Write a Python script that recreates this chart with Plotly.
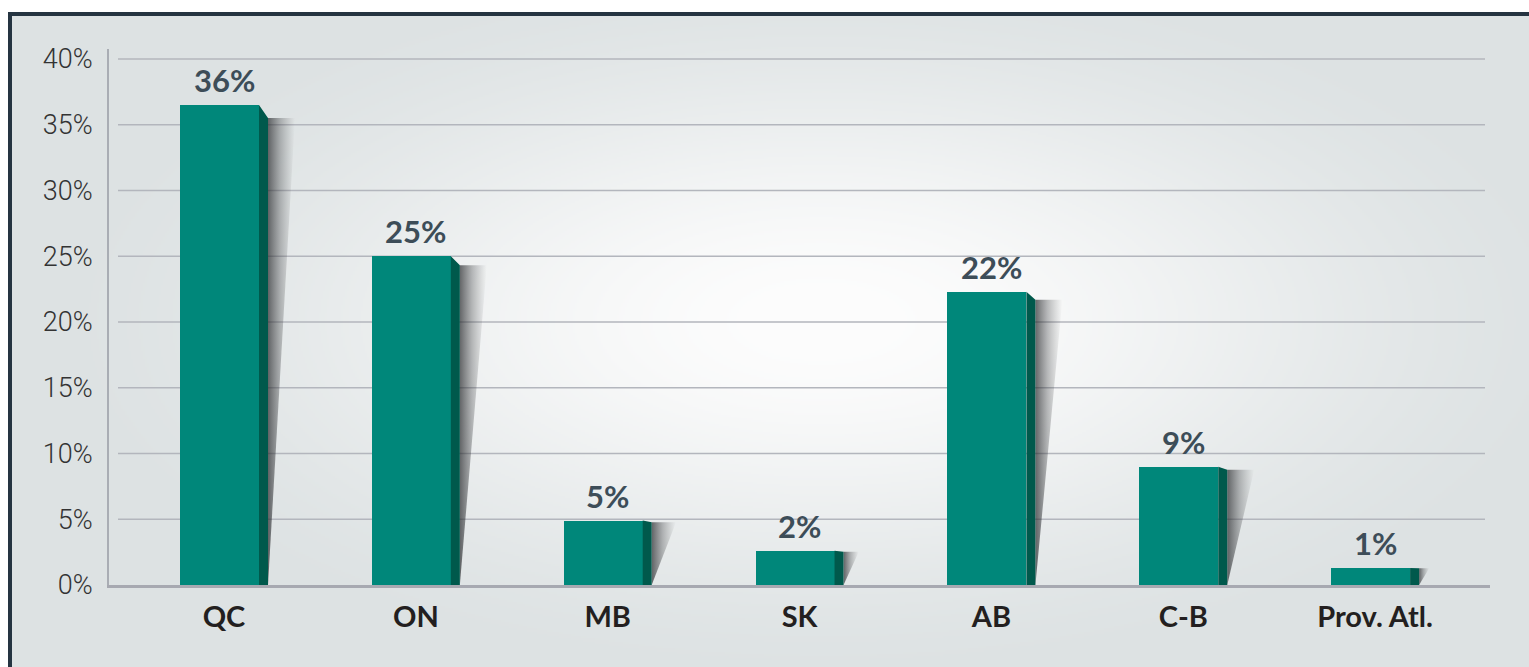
import base64, struct, zlib
import numpy as np
import plotly.graph_objects as go

# ---------------- data ----------------
categories = ["QC", "ON", "MB", "SK", "AB", "C-B", "Prov. Atl."]
values = [36.5, 25.0, 4.9, 2.6, 22.3, 9.0, 1.3]
value_labels = ["36%", "25%", "5%", "2%", "22%", "9%", "1%"]
y_ticks = [0, 5, 10, 15, 20, 25, 30, 35, 40]
y_tick_labels = ["0%", "5%", "10%", "15%", "20%", "25%", "30%", "35%", "40%"]

# ---------------- geometry / style ----------------
W, H = 1529, 667
X_LEFT, X_RIGHT = 109, 1490
Y_BOTTOM, Y_TOP = 585, 49
CAT_PX = 191.85                      # pixels per category
PX_PER_PCT = 13.15                   # pixels per percent
x_range = [-(224 - X_LEFT) / CAT_PX, (X_RIGHT - 224) / CAT_PX]
y_max = (Y_BOTTOM - Y_TOP) / PX_PER_PCT

FRONT = "#00877a"
SIDE = "#00594c"
idx = list(range(len(categories)))


def px2x(p):
    return p / CAT_PX


def px2y(p):
    return p / PX_PER_PCT


# ---------------- background gradient image ----------------
def make_png(arr):
    h, w, _ = arr.shape
    raw = b"".join(b"\x00" + arr[r].tobytes() for r in range(h))

    def chunk(t, d):
        c = struct.pack(">I", len(d)) + t + d
        return c + struct.pack(">I", zlib.crc32(t + d) & 0xffffffff)

    return (b"\x89PNG\r\n\x1a\n" + chunk(b"IHDR", struct.pack(">IIBBBBB", w, h, 8, 2, 0, 0, 0))
            + chunk(b"IDAT", zlib.compress(raw, 9)) + chunk(b"IEND", b""))


gw, gh = 765, 334
yy, xx = np.mgrid[0:gh, 0:gw].astype(float)
xx *= W / gw
yy *= H / gh
r = np.sqrt(((xx - 820) / 820) ** 2 + ((yy - 320) / 380) ** 2)
t = np.clip(r, 0, 1)
t = t * t * (3 - 2 * t)
center = np.array([253, 253, 253], float)
edge = np.array([221, 226, 227], float)
img = (center[None, None, :] * (1 - t[..., None]) + edge[None, None, :] * t[..., None]).astype(np.uint8)
bg_uri = "data:image/png;base64," + base64.b64encode(make_png(img)).decode()

fig = go.Figure()

# shadows
for i, v in zip(idx, values):
    h = v * PX_PER_PCT
    bevel = 0.027 * h
    sw = min(27, 5 + 0.3 * h)
    xs = i + px2x(44)
    top = v - px2y(bevel)
    fig.add_trace(go.Scatter(
        x=[xs, xs + px2x(sw), xs, xs], y=[top, top, 0, top],
        mode="lines", fill="toself", line=dict(width=0),
        fillgradient=dict(type="horizontal",
                          colorscale=[[0, "rgba(40,42,45,0.7)"], [0.45, "rgba(60,62,65,0.34)"], [1, "rgba(90,90,90,0)"]]),
        hoverinfo="skip", showlegend=False))

# side faces
sx, sy = [], []
for i, v in zip(idx, values):
    h = v * PX_PER_PCT
    bevel = 0.027 * h
    x0, x1 = i + px2x(35), i + px2x(44)
    sx += [x0, x0, x1, x1, x0, None]
    sy += [0, v, v - px2y(bevel), 0, 0, None]
fig.add_trace(go.Scatter(x=sx, y=sy, mode="lines", fill="toself", fillcolor=SIDE,
                         line=dict(width=0, color=SIDE), hoverinfo="skip", showlegend=False))

# front faces
fig.add_trace(go.Bar(x=idx, y=values, width=px2x(79), offset=-px2x(44),
                     marker=dict(color=FRONT, line=dict(width=0)), showlegend=False,
                     hovertext=categories))

# value labels
for i, v, lab in zip(idx, values, value_labels):
    fig.add_annotation(x=i, y=v, text=lab, showarrow=False, yanchor="bottom", yshift=4,
                       font=dict(family="Lato", size=31, color="#3d4d58", weight="bold"))

shapes = []
# gridlines
for v in y_ticks[1:]:
    shapes.append(dict(type="line", xref="paper", yref="y", x0=118 / W, x1=1485 / W, y0=v, y1=v,
                       line=dict(color="#b3b6bd", width=1.6), layer="below"))
# frame
shapes += [
    dict(type="rect", xref="paper", yref="paper", x0=0, x1=1, y0=1 - 12 / H, y1=1,
         fillcolor="white", line=dict(width=0), layer="above"),
    dict(type="rect", xref="paper", yref="paper", x0=0, x1=8 / W, y0=0, y1=1,
         fillcolor="white", line=dict(width=0), layer="above"),
    dict(type="rect", xref="paper", yref="paper", x0=8 / W, x1=1, y0=1 - 16 / H, y1=1 - 12 / H,
         fillcolor="#253441", line=dict(width=0), layer="above"),
    dict(type="rect", xref="paper", yref="paper", x0=8 / W, x1=12 / W, y0=0, y1=1 - 12 / H,
         fillcolor="#253441", line=dict(width=0), layer="above"),
]

fig.update_layout(
    width=W, height=H, margin=dict(l=0, r=0, t=0, b=0, pad=0, autoexpand=False),
    paper_bgcolor="#dde2e3", plot_bgcolor="rgba(0,0,0,0)",
    images=[dict(source=bg_uri, xref="paper", yref="paper", x=0, y=1, sizex=1, sizey=1,
                 xanchor="left", yanchor="top", sizing="stretch", layer="below")],
    shapes=shapes,
    xaxis=dict(domain=[X_LEFT / W, X_RIGHT / W], range=x_range, tickmode="array",
               tickvals=idx, ticktext=categories, showgrid=False, zeroline=False,
               showline=True, linecolor="#a7a9b1", linewidth=3, ticks="",
               ticklabelstandoff=4, automargin=False,
               tickfont=dict(family="Lato", size=29, color="#231f20", weight="bold")),
    yaxis=dict(domain=[1 - Y_BOTTOM / H, 1 - Y_TOP / H], range=[0, y_max], tickmode="array",
               tickvals=y_ticks, ticktext=y_tick_labels, showgrid=False, zeroline=False,
               showline=True, linecolor="#a9adb4", linewidth=2, ticks="",
               ticklabelstandoff=9, automargin=False,
               tickfont=dict(family="Roboto", size=27, color="#333333", weight=300)),
    bargap=0, showlegend=False,
)

fig.write_html("out.html", config={"displayModeBar": False},
               post_script="document.body.style.margin='0';document.body.style.overflow='hidden';")
